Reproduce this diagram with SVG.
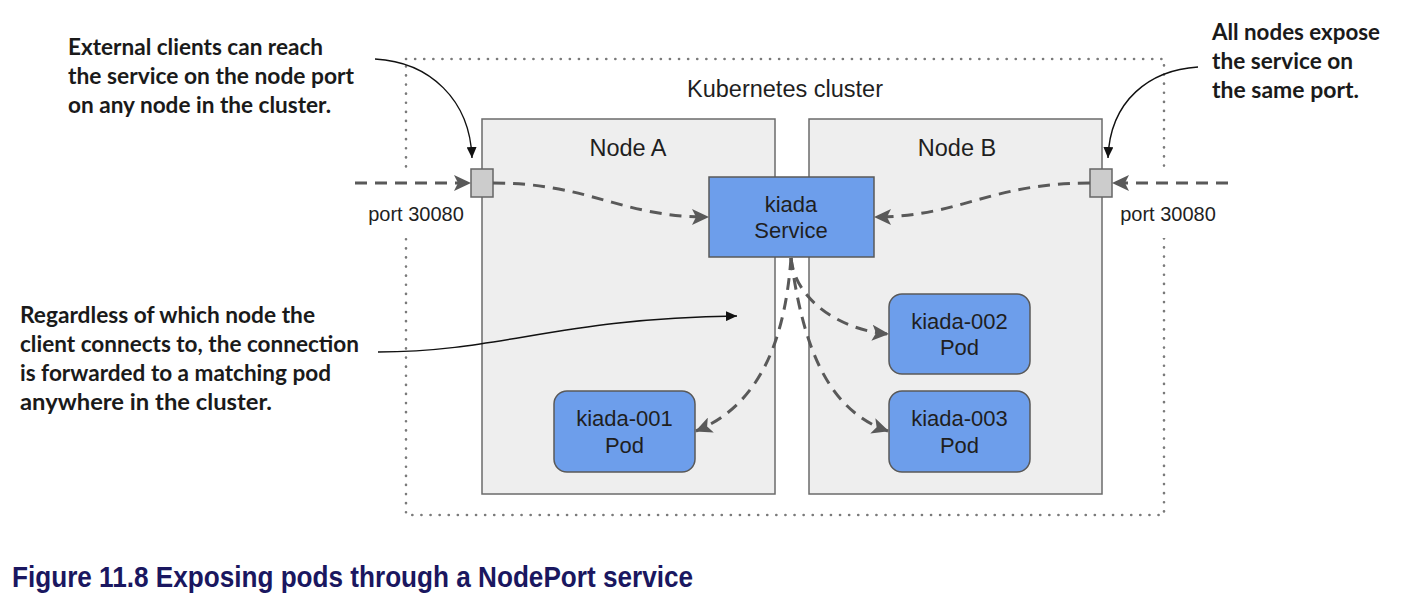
<svg xmlns="http://www.w3.org/2000/svg" width="1410" height="606" viewBox="0 0 1410 606">
<style>
.lbl{font-family:"Liberation Sans",Arial,sans-serif;fill:#1f1f1f;text-anchor:middle}
.note{font-family:Lato,"Open Sans",sans-serif;font-weight:700;font-size:22.5px;fill:#1a1a1a}
.node{fill:#eeeeee;stroke:#6b6b6b;stroke-width:1.5}
.blue{fill:#6d9eeb;stroke:#595959;stroke-width:1.5}
.port{fill:#cccccc;stroke:#666666;stroke-width:1.5}
.dash{fill:none;stroke:#595959;stroke-width:3;stroke-dasharray:12 8}
.thin{fill:none;stroke:#111;stroke-width:1.4}
</style>
<defs>
<marker id="ah" markerUnits="userSpaceOnUse" markerWidth="18" markerHeight="16" refX="16" refY="8" orient="auto">
<path d="M0,0 L17,8 L0,16 L4,8 Z" fill="#595959"/>
</marker>
<marker id="bh" markerUnits="userSpaceOnUse" markerWidth="12" markerHeight="10" refX="11" refY="5" orient="auto">
<path d="M0,0 L11,5 L0,10 Z" fill="#111"/>
</marker>
</defs>
<rect width="1410" height="606" fill="#ffffff"/>
<g id="cluster">
<rect x="406" y="59" width="758" height="456" fill="none" stroke="#7a7a7a" stroke-width="2.6" stroke-linecap="round" stroke-dasharray="0.1 9"/>
<rect x="364" y="170" width="106" height="68" fill="#ffffff"/>
<rect x="1116" y="170" width="106" height="68" fill="#ffffff"/>
<text class="lbl" x="785" y="97" font-size="23.5">Kubernetes cluster</text>
</g>
<g id="nodeA">
<rect class="node" x="482" y="119" width="293" height="375"/>
<text class="lbl" x="628" y="156" font-size="23.5">Node A</text>
</g>
<g id="nodeB">
<rect class="node" x="809" y="119" width="293" height="375"/>
<text class="lbl" x="957" y="156" font-size="23.5">Node B</text>
</g>
<g id="portA">
<rect class="port" x="471" y="169" width="22" height="28"/>
<text class="lbl" x="416" y="221" font-size="20">port 30080</text>
</g>
<g id="portB">
<rect class="port" x="1090" y="169" width="22" height="28"/>
<text class="lbl" x="1168" y="221" font-size="20">port 30080</text>
</g>
<g id="service">
<rect class="blue" x="709" y="177" width="165" height="80"/>
<text class="lbl" x="791" y="212" font-size="22">kiada</text>
<text class="lbl" x="791" y="238" font-size="22">Service</text>
</g>
<g id="pod001">
<rect class="blue" x="554" y="391" width="141" height="81" rx="13"/>
<text class="lbl" x="624.5" y="426" font-size="22">kiada-001</text>
<text class="lbl" x="624.5" y="453" font-size="22">Pod</text>
</g>
<g id="pod002">
<rect class="blue" x="889" y="294" width="141" height="80" rx="13"/>
<text class="lbl" x="959.5" y="329" font-size="22">kiada-002</text>
<text class="lbl" x="959.5" y="355" font-size="22">Pod</text>
</g>
<g id="pod003">
<rect class="blue" x="889" y="391" width="141" height="81" rx="13"/>
<text class="lbl" x="959.5" y="426" font-size="22">kiada-003</text>
<text class="lbl" x="959.5" y="453" font-size="22">Pod</text>
</g>
<g id="connectors">
<path class="dash" d="M355,183 L470,183" marker-end="url(#ah)"/>
<path class="dash" d="M1228,183 L1113,183" marker-end="url(#ah)"/>
<path class="dash" d="M493,183 C590,183 620,217 708,217" marker-end="url(#ah)"/>
<path class="dash" d="M1090,183 C990,183 960,217 875,217" marker-end="url(#ah)"/>
<path class="dash" d="M791,258 C795,300 840,330 888,334" marker-end="url(#ah)"/>
<path class="dash" d="M791,258 C802,340 825,410 888,431" marker-end="url(#ah)"/>
<path class="dash" d="M791,258 C785,340 760,405 696,431" marker-end="url(#ah)"/>
<path class="thin" d="M375,59 C430,62 470,100 472,158" marker-end="url(#bh)"/>
<path class="thin" d="M1198,67 C1150,70 1110,100 1108,158" marker-end="url(#bh)"/>
<path class="thin" d="M378,352 C500,352 560,318 737,316" marker-end="url(#bh)"/>
</g>
<g id="notes">
<text class="note" x="68" y="55" textLength="255" lengthAdjust="spacingAndGlyphs">External clients can reach</text>
<text class="note" x="68" y="84" textLength="286" lengthAdjust="spacingAndGlyphs">the service on the node port</text>
<text class="note" x="68" y="113" textLength="263" lengthAdjust="spacingAndGlyphs">on any node in the cluster.</text>
<text class="note" x="1212" y="40" textLength="168" lengthAdjust="spacingAndGlyphs">All nodes expose</text>
<text class="note" x="1212" y="69" textLength="141" lengthAdjust="spacingAndGlyphs">the service on</text>
<text class="note" x="1212" y="98" textLength="147" lengthAdjust="spacingAndGlyphs">the same port.</text>
<text class="note" x="20" y="323" textLength="295" lengthAdjust="spacingAndGlyphs">Regardless of which node the</text>
<text class="note" x="20" y="352" textLength="339" lengthAdjust="spacingAndGlyphs">client connects to, the connection</text>
<text class="note" x="20" y="381" textLength="311" lengthAdjust="spacingAndGlyphs">is forwarded to a matching pod</text>
<text class="note" x="20" y="410" textLength="252" lengthAdjust="spacingAndGlyphs">anywhere in the cluster.</text>
</g>
<text id="caption" x="12" y="587" font-family="'Liberation Sans Narrow','Liberation Sans',Arial,sans-serif" font-weight="700" font-size="29" fill="#1a1760" textLength="681" lengthAdjust="spacingAndGlyphs">Figure 11.8 Exposing pods through a NodePort service</text>
</svg>
